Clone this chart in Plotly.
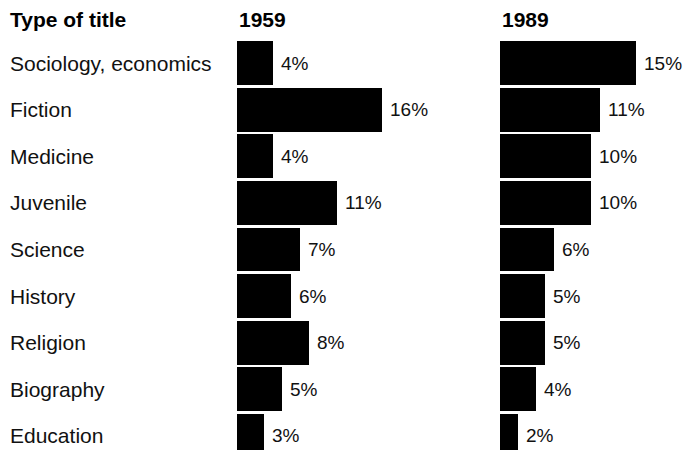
import plotly.graph_objects as go

categories = ["Sociology, economics", "Fiction", "Medicine", "Juvenile", "Science",
              "History", "Religion", "Biography", "Education"]
values_1959 = [4, 16, 4, 11, 7, 6, 8, 5, 3]
values_1989 = [15, 11, 10, 10, 6, 5, 5, 4, 2]
header_label = "Type of title"
year_labels = ["1959", "1989"]

W, H = 687, 450
PX_PER_PCT = 9.05
ROW = 46.6
FIRST = 63
FONT = "Liberation Sans, Arial, sans-serif"
FS = 21
VFS = 19

x1l, x1r = 237, 490
x2l, x2r = 500, 687

fig = go.Figure()
for vals, xa in [(values_1959, "x"), (values_1989, "x2")]:
    fig.add_trace(go.Bar(
        y=categories, x=vals, orientation="h", xaxis=xa, yaxis="y",
        marker=dict(color="black", line=dict(width=0)), width=0.94,
        showlegend=False, hoverinfo="skip",
    ))
    for c, v in zip(categories, vals):
        fig.add_annotation(x=v, xref=xa, y=c, yref="y", text=f"{v}%", showarrow=False,
                           xanchor="left", yanchor="middle", xshift=6,
                           font=dict(size=VFS))

ymin = -FIRST / ROW
ymax = ymin + H / ROW

fig.update_layout(
    width=W, height=H, margin=dict(l=0, r=0, t=0, b=0),
    paper_bgcolor="white", plot_bgcolor="white",
    font=dict(family=FONT, size=FS, color="#111111"),
    xaxis=dict(domain=[x1l / W, x1r / W], range=[0, (x1r - x1l) / PX_PER_PCT], visible=False),
    xaxis2=dict(domain=[x2l / W, x2r / W], range=[0, (x2r - x2l) / PX_PER_PCT], visible=False),
    yaxis=dict(type="category", categoryorder="array", categoryarray=categories,
               range=[ymax, ymin], visible=False, domain=[0, 1]),
    bargap=0,
)

for c in categories:
    fig.add_annotation(x=8 / W, xref="paper", y=c, yref="y", text=c, showarrow=False,
                       xanchor="left", yanchor="middle", font=dict(size=FS))

fig.add_annotation(x=8 / W, xref="paper", y=1 - 20 / H, yref="paper", text=f"<b>{header_label}</b>",
                   showarrow=False, xanchor="left", yanchor="middle", font=dict(size=FS, color="black"))
for lbl, xl in zip(year_labels, [x1l, x2l]):
    fig.add_annotation(x=xl / W, xref="paper", y=1 - 20 / H, yref="paper", text=f"<b>{lbl}</b>",
                       showarrow=False, xanchor="left", yanchor="middle", font=dict(size=FS, color="black"))

fig.write_html("out.html", config={"displayModeBar": False, "staticPlot": True},
               post_script="document.body.style.margin='0';document.body.style.overflow='hidden';")
